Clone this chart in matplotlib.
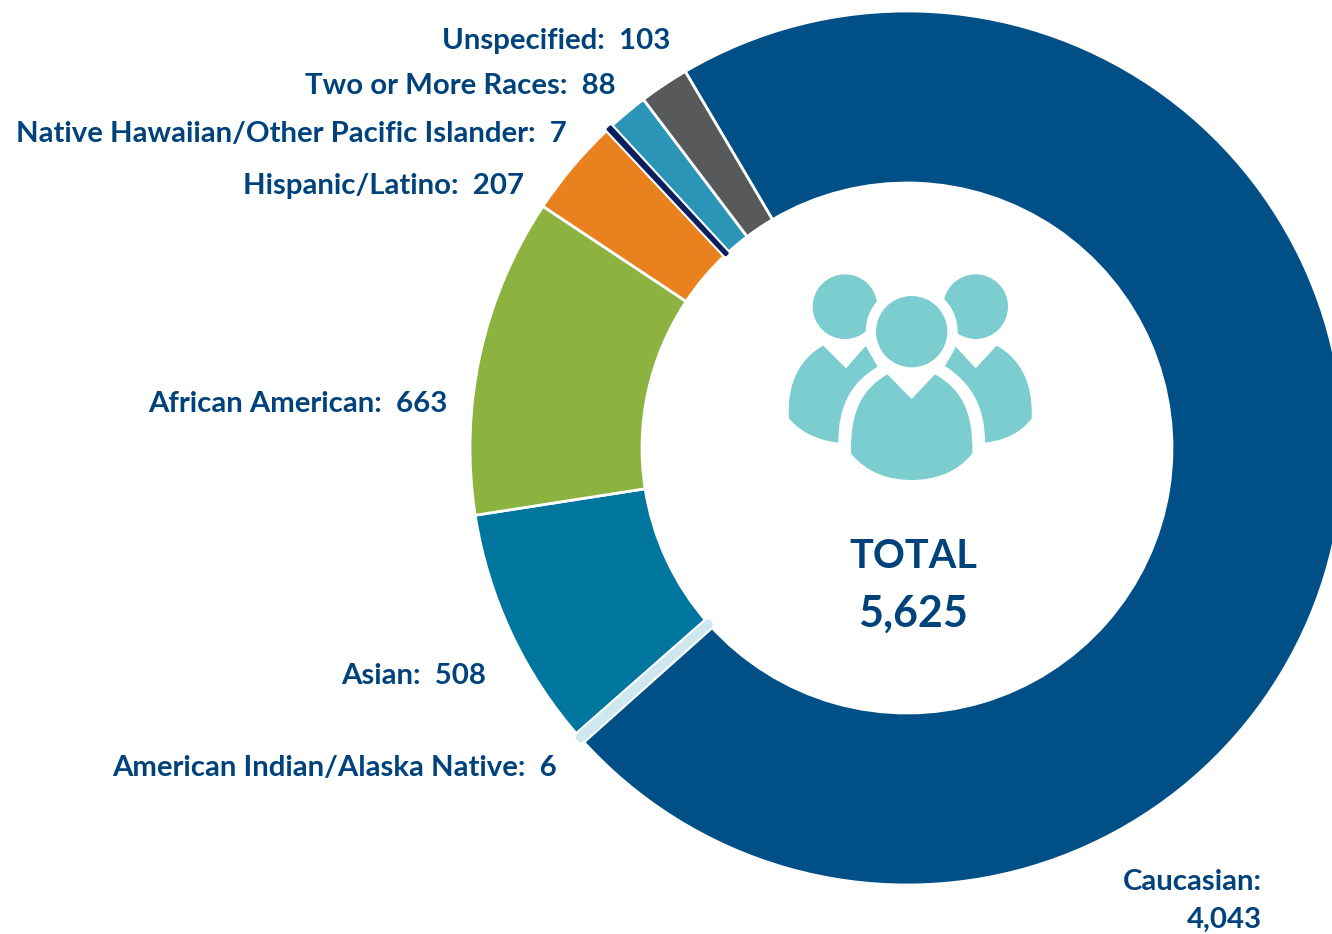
import matplotlib
matplotlib.use("Agg")
import matplotlib.pyplot as plt
import matplotlib.patheffects as pe
from matplotlib.patches import Circle, PathPatch
from matplotlib.path import Path

# 数据
categories = ["Caucasian", "American Indian/Alaska Native", "Asian", "African American",
              "Hispanic/Latino", "Native Hawaiian/Other Pacific Islander",
              "Two or More Races", "Unspecified"]
values = [4043, 6, 508, 663, 207, 7, 88, 103]
colors = ["#004F87", "#CFE8F0", "#00769E", "#8CB33F", "#E9821E", "#0B1F5C", "#2B95B8", "#58595B"]
total_label = "5,625"

W, H = 1332, 934
TEXT = "#00437C"
TEAL = "#7CCDCF"

fig = plt.figure(figsize=(W / 100, H / 100), dpi=100)
ax = fig.add_axes([0, 0, 1, 1])

cx, cy, R, r = 907, H - 448, 437, 265
wedges, _ = ax.pie(values, colors=colors, startangle=120.5, counterclock=False,
                   center=(cx, cy), radius=R,
                   wedgeprops=dict(width=R - r, edgecolor="white", linewidth=2))

# 很小的两块画粗一点,不然看不见
for w, v, c in zip(wedges, values, colors):
    if v < 10:
        w.set_edgecolor(c)
        w.set_linewidth(5.2 if v == 6 else 2.2)
        w.set_joinstyle("round")
        w.set_zorder(3)
        w.set_path_effects([pe.withStroke(linewidth=w.get_linewidth() + 3, foreground="white")])

ax.set_xlim(0, W)
ax.set_ylim(0, H)
ax.set_aspect("auto")
ax.axis("off")


def px(points):
    return [(770 + x / 3, H - (260 + y / 3)) for x, y in points]


def shape(points, codes):
    ax.add_patch(PathPatch(Path(px(points), codes), fc=TEAL, ec="none", zorder=4))


# 小人图标
L, M, C = Path.LINETO, Path.MOVETO, Path.CURVE4
for hx, hy, hr in [(225, 140, 97), (617, 140, 97)]:
    (x0, y0), = px([(hx, hy)])
    ax.add_patch(Circle((x0, y0), hr / 3, fc=TEAL, ec="none", zorder=4))
(x0, y0), = px([(425, 215)])
ax.add_patch(Circle((x0, y0), 46, fc="white", ec="none", zorder=5))
ax.add_patch(Circle((x0, y0), 107 / 3, fc=TEAL, ec="none", zorder=6))

shape([(352, 343), (425, 417), (495, 343),
       (570, 385), (610, 450), (607, 580),
       (560, 640), (490, 660), (425, 660),
       (360, 660), (290, 640), (243, 580),
       (240, 450), (280, 385), (352, 343)],
      [M, L, L, C, C, C, C, C, C, C, C, C, C, C, C])
shape([(160, 257), (228, 325), (287, 258), (323, 320),
       (240, 370), (205, 440), (205, 548),
       (140, 540), (90, 515), (57, 475),
       (50, 370), (90, 295), (160, 257)],
      [M, L, L, L, C, C, C, C, C, C, C, C, C])
shape([(680, 257), (617, 325), (557, 260), (525, 318),
       (605, 370), (645, 440), (645, 548),
       (710, 540), (755, 515), (785, 475),
       (790, 370), (750, 295), (680, 257)],
      [M, L, L, L, C, C, C, C, C, C, C, C, C])

# 标签
font = dict(family="Lato", fontweight="bold", color=TEXT)
label_pos = {"Unspecified": (670, 41), "Two or More Races": (616, 86),
             "Native Hawaiian/Other Pacific Islander": (567, 134),
             "Hispanic/Latino": (524, 186), "African American": (448, 404),
             "Asian": (486, 676), "American Indian/Alaska Native": (557, 768)}
for name, v in zip(categories, values):
    if name in label_pos:
        x, y = label_pos[name]
        ax.text(x, H - y, f"{name}:  {v:,}", ha="right", va="center", fontsize=21.2, **font)

ax.text(1262, H - 882, "Caucasian:", ha="right", va="center", fontsize=21.2, **font)
ax.text(1262, H - 920, f"{values[0]:,}", ha="right", va="center", fontsize=21.2, **font)

ax.text(913, H - 557, "TOTAL", ha="center", va="center", fontsize=28.5, **font)
ax.text(913, H - 614, total_label, ha="center", va="center", fontsize=31, **font)

fig.savefig("out.png", dpi=100)
